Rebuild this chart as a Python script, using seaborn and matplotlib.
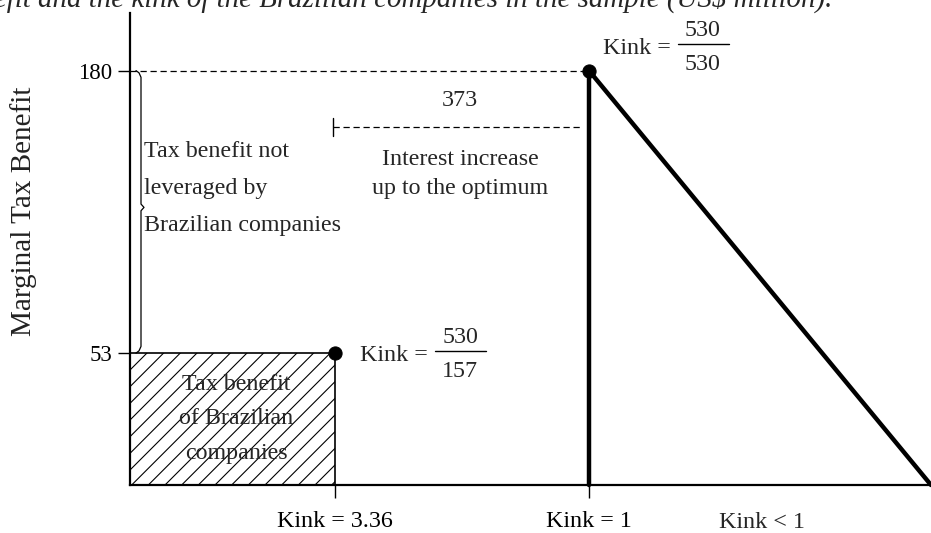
import numpy as np
import pandas as pd
import matplotlib
matplotlib.use("Agg")
import matplotlib.pyplot as plt
import matplotlib.transforms as mtrans
import seaborn as sns

# schematic values
benefit_ticks = [53, 180]              # marginal tax benefit (US$ million)
current_benefit = 53
optimum_benefit = 180
interest_increase = 373
kink_labels = ["Kink = 3.36", "Kink = 1", "Kink < 1"]
schematic_x = [205, 459, 632]          # horizontal position of each kink on the sketch
x_end = 801
kink_numerators = [530, 530]
kink_denominators = [157, 530]

sns.set_theme(style="ticks")
plt.rcParams['font.family'] = ['Liberation Serif', 'DejaVu Serif']
plt.rcParams['hatch.linewidth'] = 0.8

FS = 17.3
y_lo, y_hi = -6.3, 205.9

fig = plt.figure(figsize=(9.31, 5.33), dpi=100)
ax = fig.add_axes([130 / 931, 48 / 533, 801 / 931, 472 / 533])
ax.set_xlim(0, x_end)
ax.set_ylim(y_lo, y_hi)

# current position: hatched area
ax.fill_between([0, schematic_x[0]], y_lo, current_benefit, facecolor='none',
                edgecolor='black', hatch='//', linewidth=0)
ax.plot([0, schematic_x[0], schematic_x[0]], [current_benefit, current_benefit, y_lo],
        color='black', lw=1.2)

# optimum kink curve
curve = pd.DataFrame({'x': [schematic_x[1], schematic_x[1], x_end],
                      'y': [y_lo, optimum_benefit, y_lo]})
sns.lineplot(data=curve, x='x', y='y', sort=False, estimator=None, color='black',
             lw=3.2, ax=ax, clip_on=False)

dots = pd.DataFrame({'x': schematic_x[:2], 'y': [current_benefit, optimum_benefit]})
sns.scatterplot(data=dots, x='x', y='y', color='black', s=90, edgecolor='black',
                zorder=5, ax=ax, clip_on=False)

# dashed guides
dash = (0, (5, 3))
ax.plot([0, schematic_x[1]], [optimum_benefit, optimum_benefit], color='black',
        lw=0.9, ls=dash)
gap_y = 154.6
ax.plot([schematic_x[0] - 2, schematic_x[1] - 6], [gap_y, gap_y], color='black',
        lw=0.9, ls=dash)
ax.plot([schematic_x[0] - 2] * 2, [gap_y - 4, gap_y + 4], color='black', lw=1.0)
ax.text(330, 166.7, str(interest_increase), ha='center', va='center', fontsize=FS)
ax.text(330, 133.5, "Interest increase\nup to the optimum", ha='center', va='center',
        fontsize=FS, linespacing=1.5)

# brace for unused tax benefit
mid = (optimum_benefit + current_benefit) / 2 + 2
bx = [6, 9, 11, 11, 14, 11, 11, 9, 6]
by = [optimum_benefit, optimum_benefit - 1, optimum_benefit - 3, mid + 1.5, mid,
      mid - 1.5, current_benefit + 3, current_benefit + 1, current_benefit]
ax.plot(bx, by, color='black', lw=0.9)
ax.text(14, 126.8, "Tax benefit not\nleveraged by\nBrazilian companies", ha='left',
        va='center', fontsize=FS, linespacing=2.0)

ax.text(106, 23.4, "Tax benefit\nof Brazilian\ncompanies", ha='center', va='center',
        fontsize=FS, linespacing=1.85)


def kink_label(x, y, num, den):
    k = 0.72  # px -> points
    ax.annotate("Kink =", (x, y), ha='left', va='center', fontsize=FS)
    ax.annotate(str(num), (x, y), xytext=(100 * k, 18 * k), textcoords='offset points',
                ha='center', va='center', fontsize=FS)
    ax.annotate(str(den), (x, y), xytext=(100 * k, -16 * k), textcoords='offset points',
                ha='center', va='center', fontsize=FS)
    # fraction bar, shifted in pixel space from the label anchor
    trans = ax.transData + mtrans.ScaledTranslation(75 / 100, 4 / 100, fig.dpi_scale_trans)
    ax.plot([x, x + 51], [y, y], color='black', lw=1.0, transform=trans)


kink_label(230, 52.1, kink_numerators[0], kink_denominators[0])
kink_label(473, 190.1, kink_numerators[1], kink_denominators[1])

# axes styling
sns.despine(ax=ax, top=True, right=True)
for s in ['left', 'bottom']:
    ax.spines[s].set_linewidth(1.6)
    ax.spines[s].set_color('black')
ax.set_yticks(benefit_ticks)
ax.set_yticklabels([str(v) for v in benefit_ticks], fontsize=16.5)
ax.set_xticks(schematic_x[:2])
ax.set_xticklabels(kink_labels[:2], fontsize=FS)
ax.tick_params(axis='both', direction='out', length=9, width=1.0, color='black',
               labelcolor='black')
ax.tick_params(axis='x', pad=10)
ax.tick_params(axis='y', pad=4)
ax.text(schematic_x[2], -0.079, kink_labels[2], transform=ax.get_xaxis_transform(),
        ha='center', va='center', fontsize=FS)
ax.set_xlabel("")
ax.set_ylabel("Marginal Tax Benefit", fontsize=21, color='#222222')
ax.yaxis.set_label_coords(-0.116, 0.58)

# caption cut off at top of the image (as in the source)
fig.text(833 / 931, 1 - 7 / 533, "Marginal tax benefit and the kink of the Brazilian "
         "companies in the sample (US\\$ million).", ha='right', va='baseline',
         fontsize=20.8, style='italic')

fig.savefig("out.png", dpi=100)
